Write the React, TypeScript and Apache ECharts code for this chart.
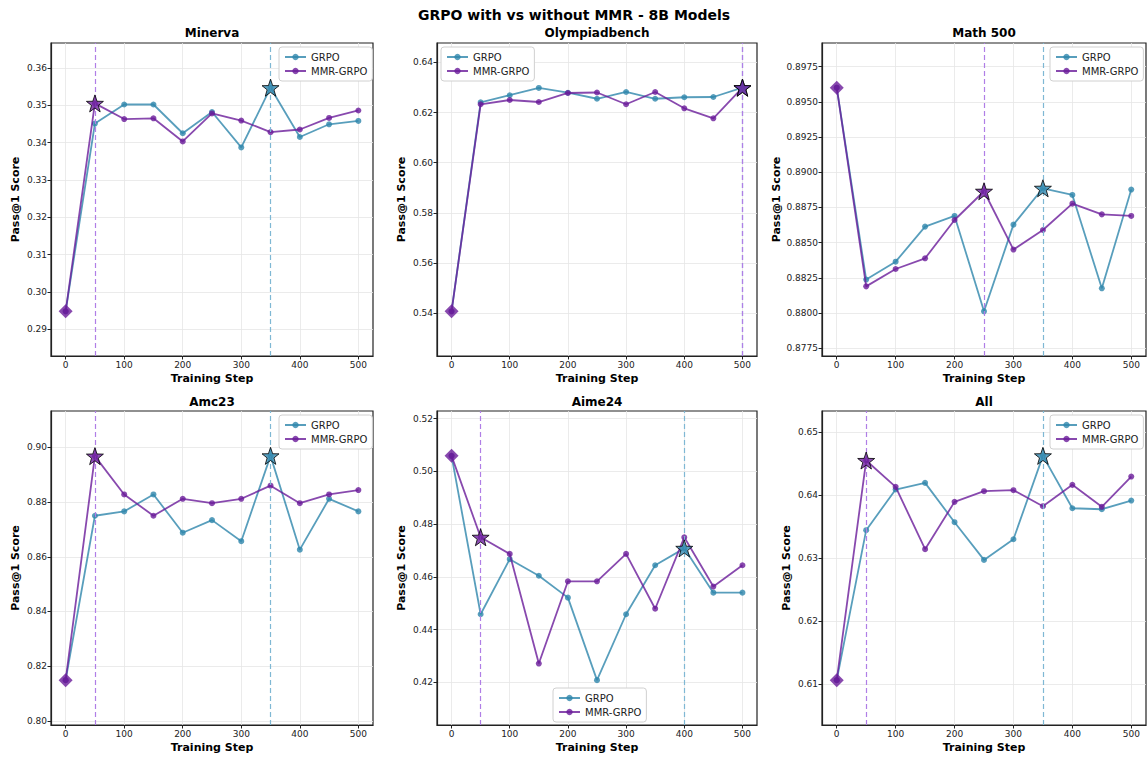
import React, { useEffect, useRef } from "react";
import * as echarts from "echarts";

const steps = [0, 50, 100, 150, 200, 250, 300, 350, 400, 450, 500];
const xTicks = [0, 100, 200, 300, 400, 500];

const minervaGrpo = [0.2948, 0.3451, 0.3502, 0.3502, 0.3425, 0.3482, 0.3387, 0.3547, 0.3415, 0.3449, 0.3458];
const minervaMmr = [0.2948, 0.3505, 0.3463, 0.3465, 0.3403, 0.3478, 0.3459, 0.3428, 0.3435, 0.3466, 0.3486];
const minervaTicks = [0.29, 0.30, 0.31, 0.32, 0.33, 0.34, 0.35, 0.36];

const olympGrpo = [0.5408, 0.6241, 0.6269, 0.6298, 0.6279, 0.6255, 0.6282, 0.6255, 0.6261, 0.6262, 0.6299];
const olympMmr = [0.5408, 0.6233, 0.6250, 0.6242, 0.6278, 0.6280, 0.6233, 0.6282, 0.6217, 0.6177, 0.6299];
const olympTicks = [0.54, 0.56, 0.58, 0.60, 0.62, 0.64];

const mathGrpo = [0.8960, 0.88238, 0.88365, 0.88614, 0.8869, 0.88013, 0.88628, 0.88886, 0.88839, 0.88176, 0.88877];
const mathMmr = [0.8960, 0.8819, 0.88313, 0.88389, 0.88661, 0.88865, 0.88451, 0.8859, 0.88777, 0.88701, 0.8869];
const mathTicks = [0.8775, 0.88, 0.8825, 0.885, 0.8875, 0.89, 0.8925, 0.895, 0.8975];

const amcGrpo = [0.8149, 0.8750, 0.8766, 0.8828, 0.8688, 0.8734, 0.8657, 0.8969, 0.8626, 0.8812, 0.8766];
const amcMmr = [0.8149, 0.8968, 0.8828, 0.8750, 0.8812, 0.8796, 0.8812, 0.8860, 0.8796, 0.8828, 0.8844];
const amcTicks = [0.80, 0.82, 0.84, 0.86, 0.88, 0.90];

const aimeGrpo = [0.5059, 0.4458, 0.4667, 0.4604, 0.4521, 0.4208, 0.4458, 0.4644, 0.4708, 0.4540, 0.4540];
const aimeMmr = [0.5059, 0.4750, 0.4687, 0.4271, 0.4583, 0.4583, 0.4687, 0.4479, 0.4750, 0.4563, 0.4644];
const aimeTicks = [0.42, 0.44, 0.46, 0.48, 0.50, 0.52];

const allGrpo = [0.6106, 0.6344, 0.64085, 0.6419, 0.63566, 0.62968, 0.63296, 0.64619, 0.63788, 0.63772, 0.6391];
const allMmr = [0.6106, 0.64545, 0.64127, 0.63138, 0.63889, 0.64058, 0.64074, 0.6382, 0.64159, 0.6381, 0.6429];
const allTicks = [0.61, 0.62, 0.63, 0.64, 0.65];

const panelTitles = ["Minerva", "Olympiadbench", "Math 500", "Amc23", "Aime24", "All"];
const seriesNames = ["GRPO", "MMR-GRPO"];
const mainTitle = "GRPO with vs without MMR - 8B Models";

const GRPO_COLOR = "rgba(46,134,171,0.8)";
const MMR_COLOR = "rgba(106,27,154,0.8)";
const GRPO_STAR = "#3589b0";
const MMR_STAR = "#6f22a0";
const BASE_COLOR = "#6a1b9a";
const GRPO_VLINE = "#7fb8d4";
const MMR_VLINE = "#b07ee6";
const FONT = "DejaVu Sans";

const STAR = "path://M0,-10 L2.35,-3.24 L9.51,-3.09 L3.8,1.24 L5.88,8.09 L0,4 L-5.88,8.09 L-3.8,1.24 L-9.51,-3.09 L-2.35,-3.24 Z";

const panels = [
  { title: panelTitles[0], grpo: minervaGrpo, mmr: minervaMmr, ticks: minervaTicks, dec: 2 },
  { title: panelTitles[1], grpo: olympGrpo, mmr: olympMmr, ticks: olympTicks, dec: 2 },
  { title: panelTitles[2], grpo: mathGrpo, mmr: mathMmr, ticks: mathTicks, dec: 4 },
  { title: panelTitles[3], grpo: amcGrpo, mmr: amcMmr, ticks: amcTicks, dec: 2 },
  { title: panelTitles[4], grpo: aimeGrpo, mmr: aimeMmr, ticks: aimeTicks, dec: 2 },
  { title: panelTitles[5], grpo: allGrpo, mmr: allMmr, ticks: allTicks, dec: 2 },
];

// layout boxes (left, top, width, height)
const boxes = [
  { l: 51, t: 43, w: 322, h: 313 },
  { l: 437, t: 43, w: 320, h: 313 },
  { l: 822, t: 43, w: 324, h: 313 },
  { l: 51, t: 411, w: 322, h: 314 },
  { l: 437, t: 411, w: 320, h: 314 },
  { l: 822, t: 411, w: 324, h: 314 },
];
const legendPos = [
  { left: 279, top: 47 },
  { left: 441, top: 47 },
  { left: 1050, top: 47 },
  { left: 279, top: 415 },
  { left: 553, top: 688 },
  { left: 1050, top: 415 },
];
const yNameGaps = [30, 30, 40, 30, 30, 30];

// best training step (step 0 is the shared starting checkpoint)
function argmaxAfterStart(a: number[]) {
  let b = 1;
  for (let i = 2; i < a.length; i++) if (a[i] > a[b]) b = i;
  return b;
}

function buildOption() {
  const grid: any[] = [];
  const xAxis: any[] = [];
  const yAxis: any[] = [];
  const series: any[] = [];
  const legend: any[] = [];
  const graphic: any[] = [];

  graphic.push({
    type: "text",
    x: 574,
    y: 15,
    style: { text: mainTitle, font: `bold 14px '${FONT}'`, fill: "#000", textAlign: "center", textVerticalAlign: "middle" },
  });

  panels.forEach((p, i) => {
    const b = boxes[i];
    grid.push({ left: b.l, top: b.t, width: b.w, height: b.h, show: true, borderColor: "#222", borderWidth: 1.2, backgroundColor: "transparent" });
    const all = p.grpo.concat(p.mmr);
    const lo = Math.min(...all);
    const hi = Math.max(...all);
    const pad = (hi - lo) * 0.2;
    xAxis.push({
      type: "value",
      gridIndex: i,
      min: -25,
      max: 525,
      name: "Training Step",
      nameLocation: "middle",
      nameGap: 17,
      nameTextStyle: { fontFamily: FONT, fontWeight: "bold", fontSize: 11, color: "#000" },
      axisLine: { show: true, onZero: false, lineStyle: { color: "#222", width: 1.2 } },
      axisTick: { show: true, length: 3.5, customValues: xTicks, lineStyle: { color: "#222" } },
      axisLabel: { customValues: xTicks, fontFamily: FONT, fontSize: 9, color: "#222", margin: 4 },
      splitLine: { show: true, lineStyle: { color: "#e6e6e6", width: 0.8 } },
    });
    yAxis.push({
      type: "value",
      gridIndex: i,
      min: lo - pad,
      max: hi + pad,
      name: "Pass@1 Score",
      nameLocation: "middle",
      nameRotate: 90,
      nameGap: yNameGaps[i],
      nameTextStyle: { fontFamily: FONT, fontWeight: "bold", fontSize: 11, color: "#000" },
      axisLine: { show: true, onZero: false, lineStyle: { color: "#222", width: 1.2 } },
      axisTick: { show: true, length: 3.5, customValues: p.ticks, lineStyle: { color: "#222" } },
      axisLabel: {
        customValues: p.ticks,
        fontFamily: FONT,
        fontSize: 9,
        color: "#222",
        margin: 4,
        formatter: (v: number) => v.toFixed(p.dec),
      },
      splitLine: { show: true, lineStyle: { color: "#e6e6e6", width: 0.8 } },
    });

    graphic.push({
      type: "text",
      x: b.l + b.w / 2,
      y: i < 3 ? 33 : 402,
      style: { text: p.title, font: `bold 12px '${FONT}'`, fill: "#000", textAlign: "center", textVerticalAlign: "middle" },
    });

    const bg = argmaxAfterStart(p.grpo);
    const bm = argmaxAfterStart(p.mmr);

    series.push({
      name: seriesNames[0],
      type: "line",
      xAxisIndex: i,
      yAxisIndex: i,
      data: steps.map((s, k) => [s, p.grpo[k]]),
      symbol: "circle",
      symbolSize: 6,
      itemStyle: { color: GRPO_COLOR },
      lineStyle: { color: GRPO_COLOR, width: 1.8 },
      z: 3,
      markLine: {
        silent: true,
        symbol: "none",
        label: { show: false },
        lineStyle: { type: [5, 3], color: GRPO_VLINE, width: 1.2, opacity: 1 },
        data: [{ xAxis: steps[bg] }],
      },
    });
    series.push({
      name: seriesNames[1],
      type: "line",
      xAxisIndex: i,
      yAxisIndex: i,
      data: steps.map((s, k) => [s, p.mmr[k]]),
      symbol: "circle",
      symbolSize: 6,
      itemStyle: { color: MMR_COLOR },
      lineStyle: { color: MMR_COLOR, width: 1.8 },
      z: 4,
      markLine: {
        silent: true,
        symbol: "none",
        label: { show: false },
        lineStyle: { type: [5, 3], color: MMR_VLINE, width: 1.2, opacity: 1 },
        data: [{ xAxis: steps[bm] }],
      },
    });
    series.push({
      name: "GRPO best",
      type: "scatter",
      xAxisIndex: i,
      yAxisIndex: i,
      data: [[steps[bg], p.grpo[bg]]],
      symbol: STAR,
      symbolSize: 17,
      itemStyle: { color: GRPO_STAR, borderColor: "#000", borderWidth: 1 },
      z: 6,
    });
    series.push({
      name: "MMR-GRPO best",
      type: "scatter",
      xAxisIndex: i,
      yAxisIndex: i,
      data: [[steps[bm], p.mmr[bm]]],
      symbol: STAR,
      symbolSize: 17,
      itemStyle: { color: MMR_STAR, borderColor: "#000", borderWidth: 1 },
      z: 7,
    });
    series.push({
      name: "Baseline",
      type: "scatter",
      xAxisIndex: i,
      yAxisIndex: i,
      data: [[steps[0], p.mmr[0]]],
      symbol: "diamond",
      symbolSize: 14,
      itemStyle: { color: BASE_COLOR },
      z: 8,
    });

    legend.push({
      data: seriesNames,
      orient: "vertical",
      left: legendPos[i].left,
      top: legendPos[i].top,
      itemWidth: 21,
      itemHeight: 8,
      itemGap: 4,
      padding: [5, 5, 5, 5],
      backgroundColor: "#fff",
      borderColor: "#d0d0d0",
      borderWidth: 1,
      borderRadius: 3,
      textStyle: { fontFamily: FONT, fontSize: 10, color: "#222" },
      selectedMode: false,
    });
  });

  return {
    animation: false,
    backgroundColor: "#fff",
    textStyle: { fontFamily: FONT },
    grid,
    xAxis,
    yAxis,
    series,
    legend,
    graphic,
  };
}

export default function App() {
  const ref = useRef<HTMLDivElement>(null);
  useEffect(() => {
    if (!ref.current) return;
    const chart = echarts.init(ref.current, undefined, { renderer: "svg" });
    chart.setOption(buildOption() as any);
    return () => chart.dispose();
  }, []);
  return <div ref={ref} style={{ position: "fixed", left: 0, top: 0, width: 1148, height: 758 }} />;
}
